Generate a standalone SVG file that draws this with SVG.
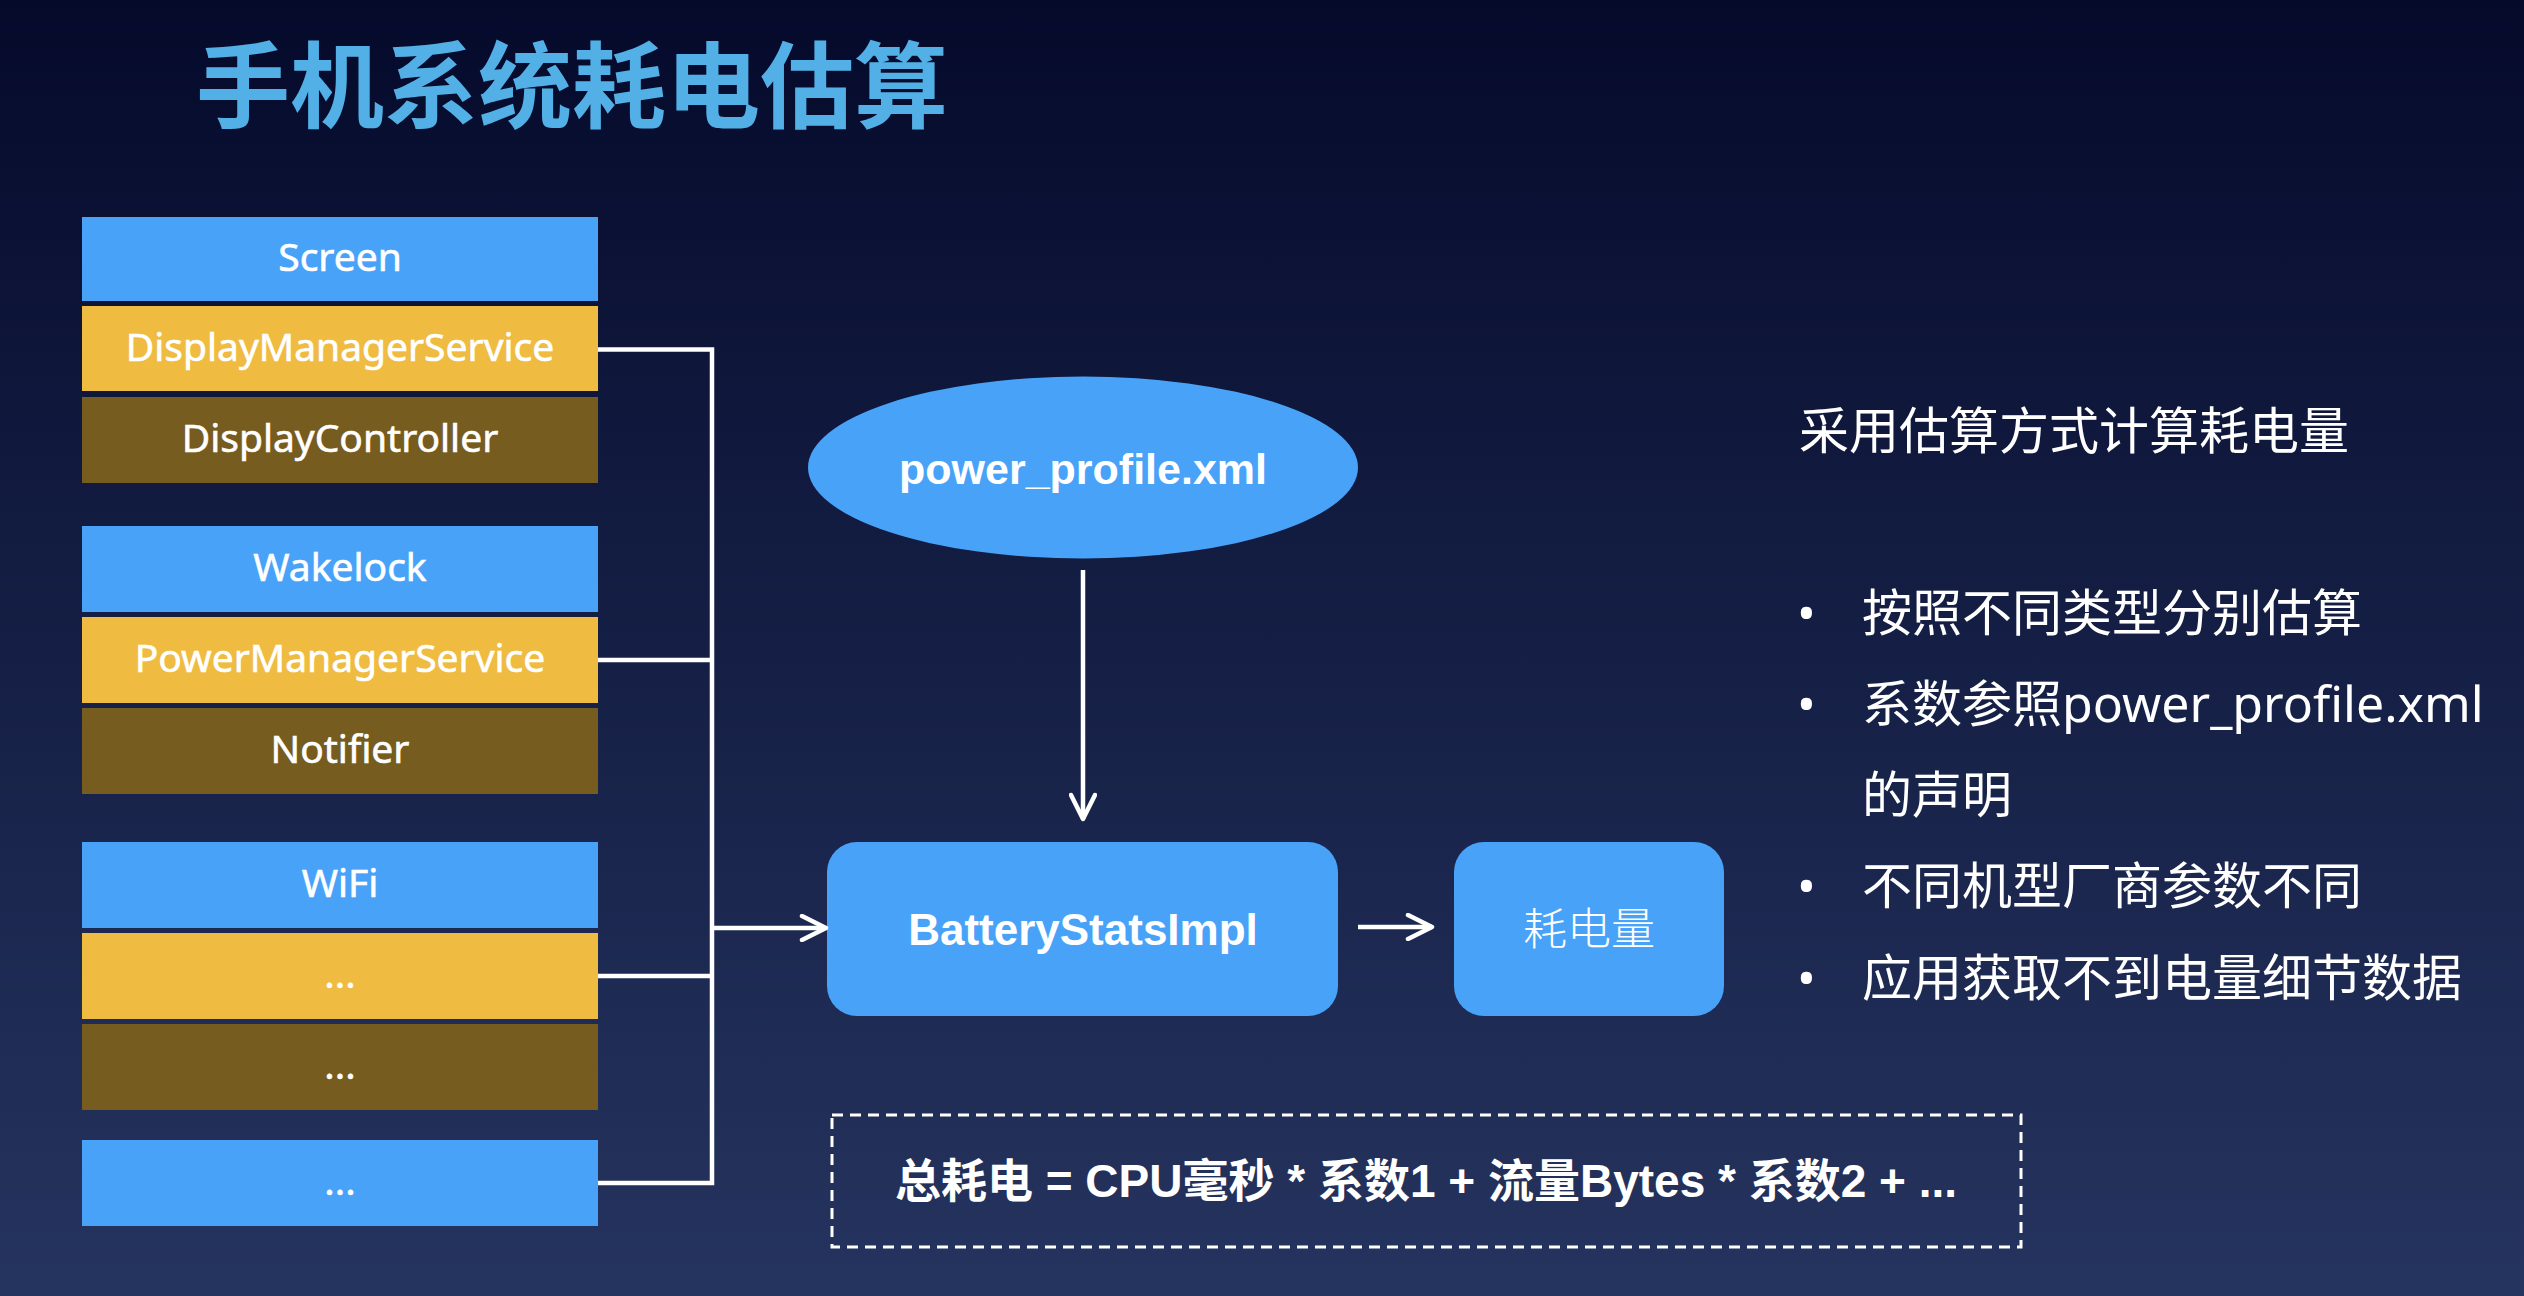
<svg xmlns="http://www.w3.org/2000/svg" width="2524" height="1296" viewBox="0 0 2524 1296">
  <defs>
    <linearGradient id="bg" x1="0" y1="0" x2="0" y2="1">
      <stop offset="0" stop-color="#050a2b"/>
      <stop offset="1" stop-color="#25345f"/>
    </linearGradient>
    <marker id="chev" viewBox="0 0 30 28" refX="27" refY="14" markerWidth="30" markerHeight="28" markerUnits="userSpaceOnUse" orient="auto">
      <path d="M3,2 L27,14 L3,26" fill="none" stroke="#ffffff" stroke-width="4.5" stroke-linecap="round" stroke-linejoin="round"/>
    </marker>
  </defs>
  <style>
    .blue { fill: #48a3f8; }
    .yellow { fill: #efbb41; }
    .brown { fill: #765c1e; }
    .lbl { font-family: "Noto Sans", "Liberation Sans", sans-serif; font-size: 39px; fill: #ffffff; text-anchor: middle; stroke: #ffffff; stroke-width: 0.6px; }
    .conn { fill: none; stroke: #ffffff; stroke-width: 4.5; }
    .side { font-family: "Noto Sans", "Noto Sans CJK SC", sans-serif; font-size: 50px; fill: #ffffff; }
  </style>
  <rect x="0" y="0" width="2524" height="1296" fill="url(#bg)"/>

  <text id="title" x="196" y="121" font-family="'Noto Sans CJK SC', sans-serif" font-weight="700" font-size="94" fill="#52b0e6">手机系统耗电估算</text>

  <g id="n-screen"><rect class="blue" x="82" y="217" width="516" height="84"/><text class="lbl" x="340" y="271">Screen</text></g>
  <g id="n-dms"><rect class="yellow" x="82" y="306" width="516" height="85"/><text class="lbl" x="340" y="361">DisplayManagerService</text></g>
  <g id="n-dc"><rect class="brown" x="82" y="397" width="516" height="86"/><text class="lbl" x="340" y="452">DisplayController</text></g>

  <g id="n-wakelock"><rect class="blue" x="82" y="526" width="516" height="86"/><text class="lbl" x="340" y="581">Wakelock</text></g>
  <g id="n-pms"><rect class="yellow" x="82" y="617" width="516" height="86"/><text class="lbl" x="340" y="672">PowerManagerService</text></g>
  <g id="n-notifier"><rect class="brown" x="82" y="708" width="516" height="86"/><text class="lbl" x="340" y="763">Notifier</text></g>

  <g id="n-wifi"><rect class="blue" x="82" y="842" width="516" height="86"/><text class="lbl" x="340" y="897">WiFi</text></g>
  <g id="n-y3"><rect class="yellow" x="82" y="933" width="516" height="86"/><text class="lbl" x="340" y="988">...</text></g>
  <g id="n-b3"><rect class="brown" x="82" y="1024" width="516" height="86"/><text class="lbl" x="340" y="1079">...</text></g>

  <g id="n-more"><rect class="blue" x="82" y="1140" width="516" height="86"/><text class="lbl" x="340" y="1195">...</text></g>

  <g id="n-profile"><ellipse class="blue" cx="1083" cy="467.5" rx="275" ry="91"/><text x="1083" y="484" font-family="'Liberation Sans', sans-serif" font-weight="700" font-size="43" fill="#ffffff" text-anchor="middle">power_profile.xml</text></g>

  <g id="n-bsi"><rect class="blue" x="827" y="842" width="511" height="174" rx="30" ry="30"/><text x="1083" y="945" font-family="'Liberation Sans', sans-serif" font-weight="700" font-size="44" fill="#ffffff" text-anchor="middle">BatteryStatsImpl</text></g>

  <g id="n-power"><rect class="blue" x="1454" y="842" width="270" height="174" rx="30" ry="30"/><text x="1589" y="945" font-family="'Noto Sans CJK SC', sans-serif" font-weight="300" font-size="44" fill="#ffffff" text-anchor="middle">耗电量</text></g>

  <g id="connectors">
    <path class="conn" d="M598,349.5 H712 V1183 H598"/>
    <path class="conn" d="M598,660 H712"/>
    <path class="conn" d="M598,976 H712"/>
    <path class="conn" d="M712,928 H826" marker-end="url(#chev)"/>
    <path class="conn" d="M1083,570 V819" marker-end="url(#chev)"/>
    <path class="conn" d="M1358,927 H1432" stroke-width="5.5" marker-end="url(#chev)"/>
  </g>

  <g id="notes">
    <text class="side" x="1799" y="449">采用估算方式计算耗电量</text>
    <text class="side" x="1797" y="631">•</text>
    <text class="side" x="1862" y="631">按照不同类型分别估算</text>
    <text class="side" x="1797" y="722">•</text>
    <text class="side" x="1862" y="722">系数参照power_profile.xml</text>
    <text class="side" x="1862" y="813">的声明</text>
    <text class="side" x="1797" y="904">•</text>
    <text class="side" x="1862" y="904">不同机型厂商参数不同</text>
    <text class="side" x="1797" y="996">•</text>
    <text class="side" x="1862" y="996">应用获取不到电量细节数据</text>
  </g>

  <g id="formula">
    <rect x="832" y="1115" width="1189" height="132" fill="none" stroke="#ffffff" stroke-width="3" stroke-dasharray="11 7"/>
    <text x="1426" y="1197" font-family="'Liberation Sans', 'Noto Sans CJK SC', sans-serif" font-weight="700" font-size="46" fill="#ffffff" text-anchor="middle">总耗电 = CPU毫秒 * 系数1 + 流量Bytes * 系数2 + ...</text>
  </g>
</svg>
